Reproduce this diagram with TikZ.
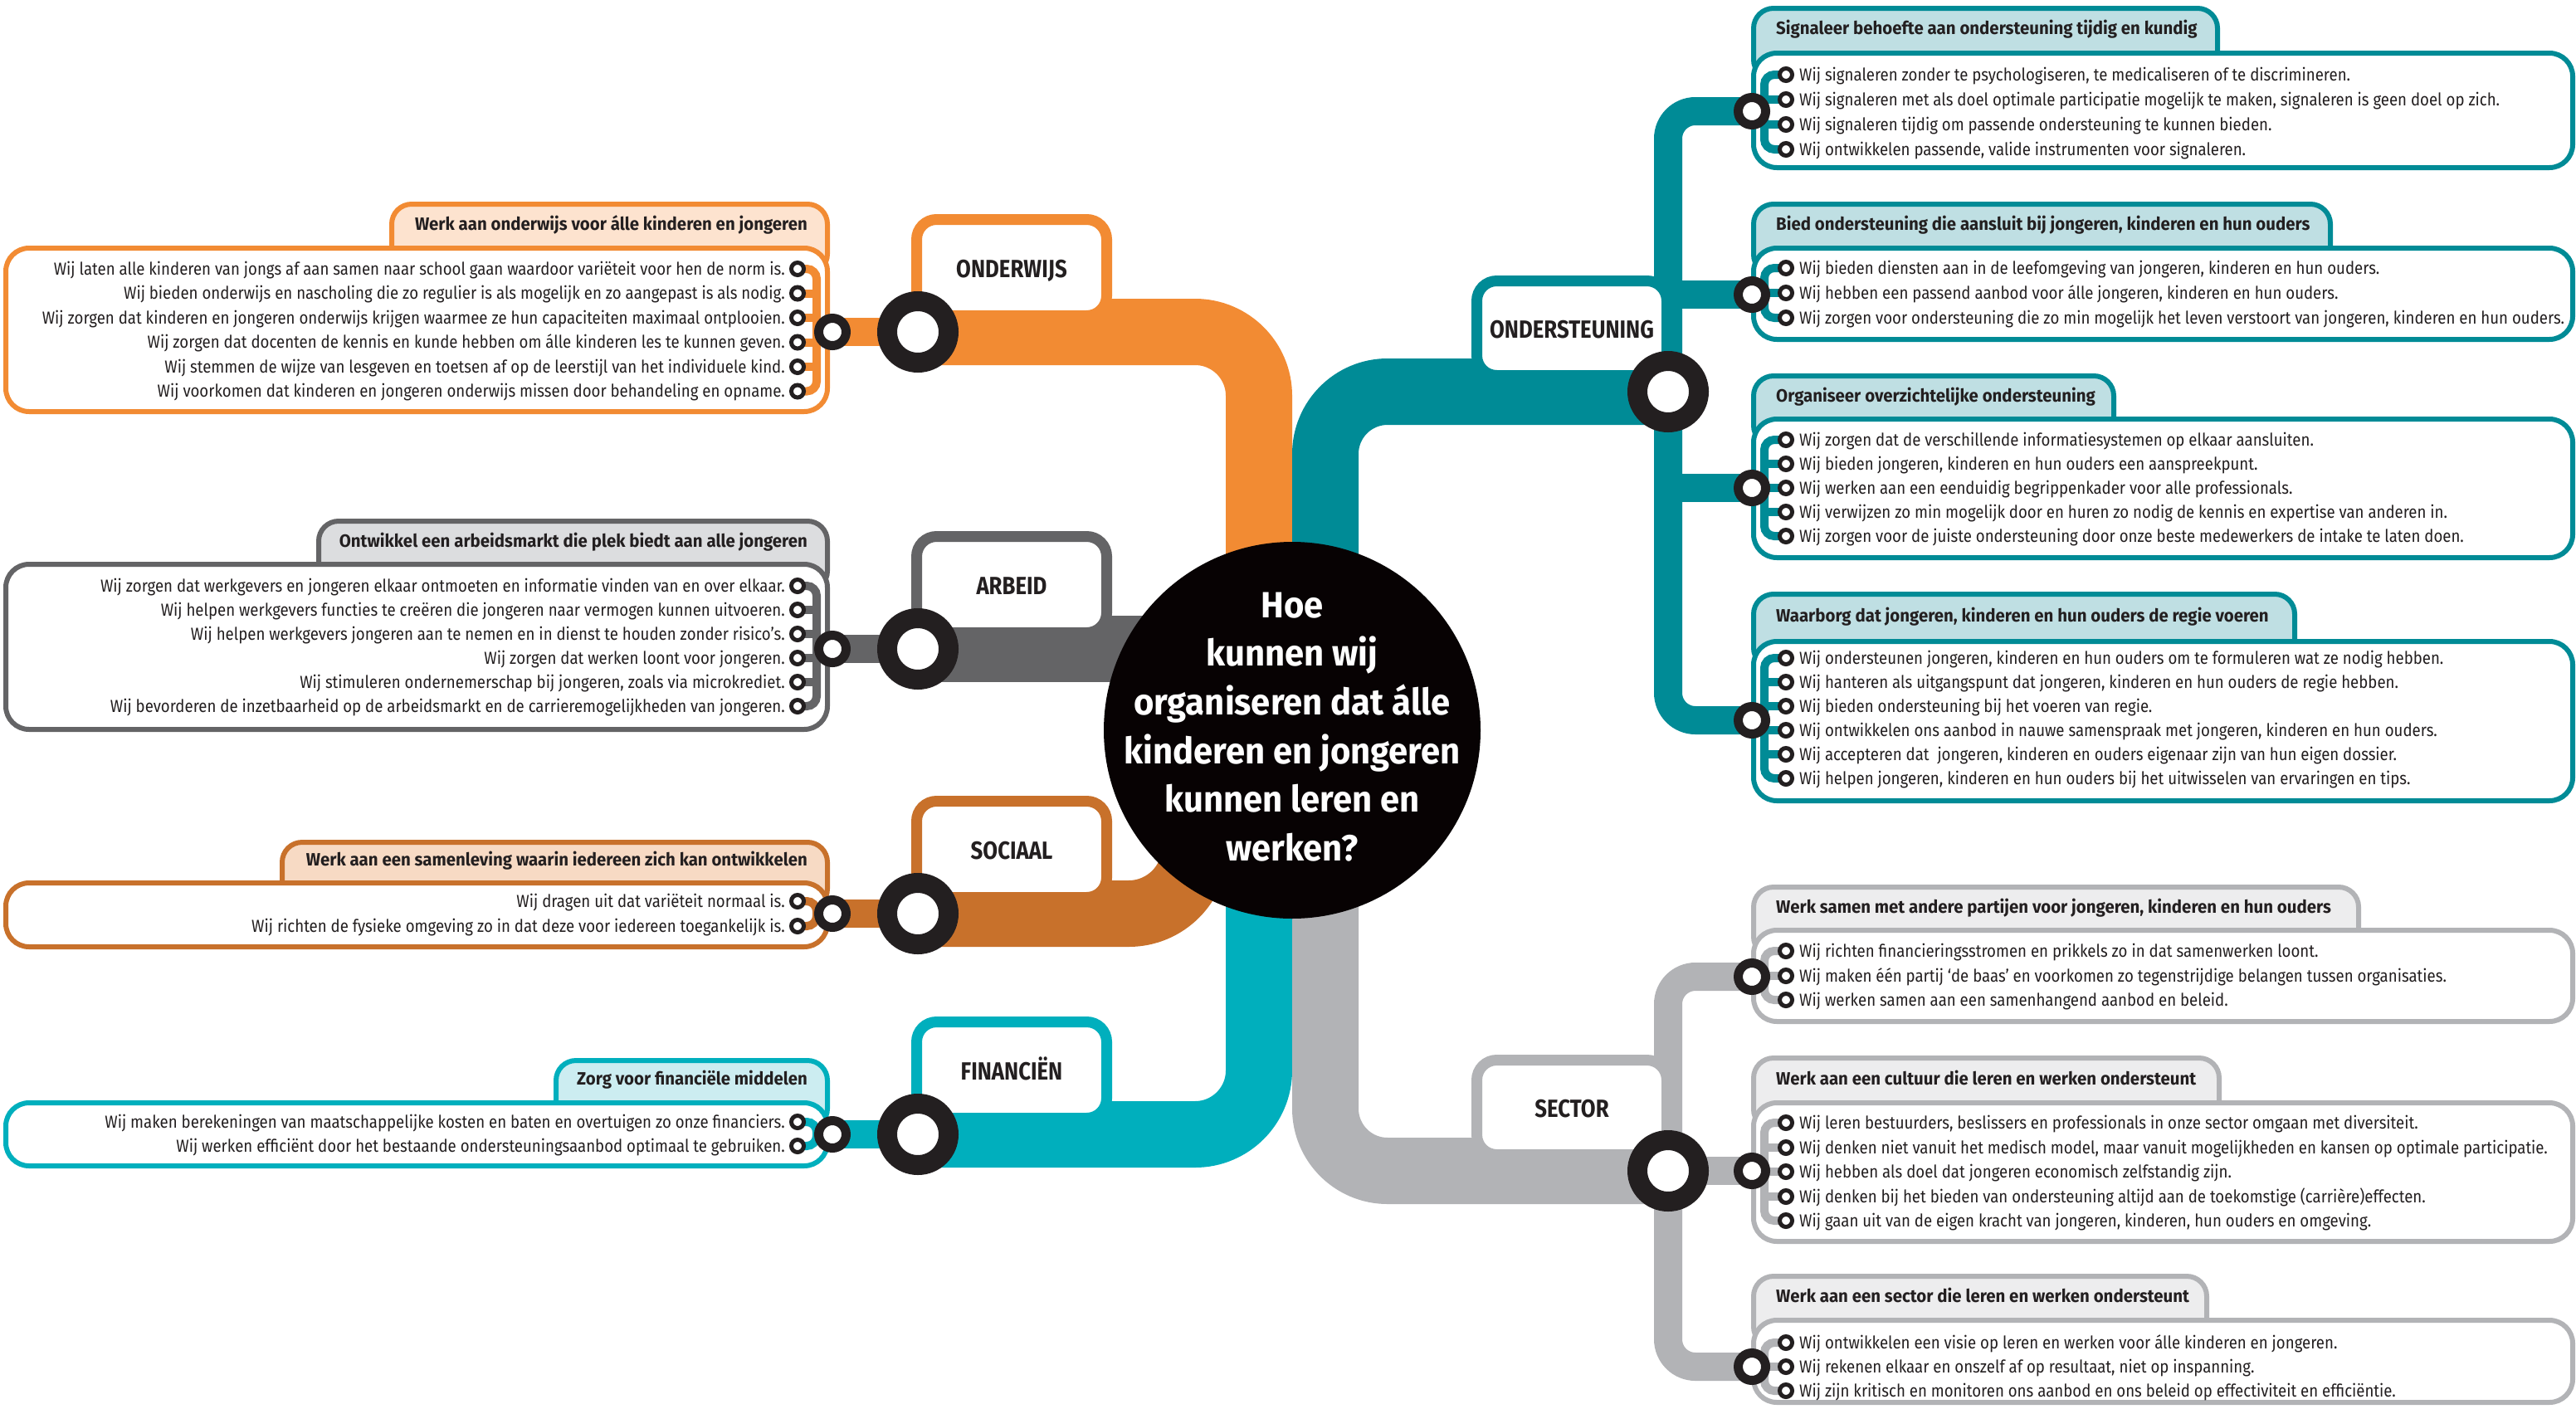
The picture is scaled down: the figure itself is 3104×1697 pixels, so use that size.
\documentclass[tikz,border=0pt]{standalone}
\usepackage{fontspec}
\setmainfont{Fira Sans}
\newfontfamily\condfont{Fira Sans}[FakeStretch=0.86]
\newfontfamily\bodyfont{Fira Sans}[FakeStretch=0.887]
\newfontfamily\headfont{Fira Sans}[FakeStretch=0.95]
\newfontfamily\hubfont{Fira Sans}[FakeStretch=0.95]
\definecolor{orC}{HTML}{F28B33}\definecolor{orT}{HTML}{FDE3CF}
\definecolor{dgC}{HTML}{646466}\definecolor{dgT}{HTML}{DCDDDF}
\definecolor{brC}{HTML}{C8712B}\definecolor{brT}{HTML}{F7DAC4}
\definecolor{cyC}{HTML}{00AFBD}\definecolor{cyT}{HTML}{CCEDF1}
\definecolor{tlC}{HTML}{008B96}\definecolor{tlT}{HTML}{BFDFE3}
\definecolor{lgC}{HTML}{B2B3B6}\definecolor{lgT}{HTML}{EDEDEE}
\definecolor{ringC}{HTML}{231F20}\definecolor{hubFill}{HTML}{070203}
\definecolor{txtC}{HTML}{231F20}
\pgfdeclarelayer{bg}\pgfdeclarelayer{lines}\pgfdeclarelayer{labels}
\pgfsetlayers{bg,lines,labels,main}
\begin{document}
\begin{tikzpicture}[x=1pt,y=-1pt,
  boxshape/.style={line width=6pt, rounded corners=28pt, fill=white},
  tabshape/.style={line width=6pt, rounded corners=24pt},
  lbox/.style={line width=13pt, rounded corners=24pt, fill=white},
  band/.style={line width=80pt},
  midband/.style={line width=34pt},
  brk/.style={line width=10pt, rounded corners=12pt},
  stub/.style={line width=10pt},
  bigring/.style={circle, draw=ringC, fill=white, line width=24pt, minimum size=74pt, inner sep=0pt},
  medring/.style={circle, draw=ringC, fill=white, line width=11pt, minimum size=33pt, inner sep=0pt},
  smlring/.style={circle, draw=ringC, fill=white, line width=5pt, minimum size=15pt, inner sep=0pt},
  bodyL/.style={anchor=base east, inner sep=0pt, text=txtC, font=\bodyfont\fontsize{21}{24}\selectfont},
  bodyR/.style={anchor=base west, inner sep=0pt, text=txtC, font=\bodyfont\fontsize{21}{24}\selectfont},
  headL/.style={anchor=base east, inner sep=0pt, text=txtC, font=\headfont\bfseries\fontsize{21.5}{24}\selectfont},
  headR/.style={anchor=base west, inner sep=0pt, text=txtC, font=\headfont\bfseries\fontsize{21.5}{24}\selectfont},
  labeltext/.style={anchor=base, inner sep=0pt, text=txtC, font=\condfont\bfseries\fontsize{30}{32}\selectfont},
  hubtext/.style={inner sep=0pt, text=white, align=center, font=\hubfont\bfseries\fontsize{44}{58.6}\selectfont}
]
\useasboundingbox (0,0) rectangle (3104,1697);

% ================= HUB =================
\begin{pgfonlayer}{labels}
\node[circle, fill=hubFill, minimum size=454pt, inner sep=0pt] (hub) at (1557,880) {};
\end{pgfonlayer}
\node[hubtext] (hubtxt) at (1557,876) {Hoe\\kunnen wij\\organiseren dat álle\\kinderen en jongeren\\kunnen leren en\\werken?};
\coordinate (hubL) at (1517,880);
\coordinate (hubM) at (1557,782);
\coordinate (hubR) at (1597,880);
\coordinate (hubS) at (1440,880);

% ================= ONDERWIJS =================
\node[bigring] (ondB) at (1106,400) {};
\node[medring] (ondM) at (1003,400) {};
\coordinate (ondK) at (984,400);
\node[smlring] (os1) at (961,324) {};
\node[smlring] (os2) at (961,353.5) {};
\node[smlring] (os3) at (961,383) {};
\node[smlring] (os4) at (961,412.5) {};
\node[smlring] (os5) at (961,442) {};
\node[smlring] (os6) at (961,471.5) {};
\node[headL] (oh) at (973,277) {Werk aan onderwijs voor álle kinderen en jongeren};
\node[bodyL] (ot1) at (946,331) {Wij laten alle kinderen van jongs af aan samen naar school gaan waardoor variëteit voor hen de norm is.};
\node[bodyL] (ot2) at (946,360.5) {Wij bieden onderwijs en nascholing die zo regulier is als mogelijk en zo aangepast is als nodig.};
\node[bodyL] (ot3) at (946,390) {Wij zorgen dat kinderen en jongeren onderwijs krijgen waarmee ze hun capaciteiten maximaal ontplooien.};
\node[bodyL] (ot4) at (946,419.5) {Wij zorgen dat docenten de kennis en kunde hebben om álle kinderen les te kunnen geven.};
\node[bodyL] (ot5) at (946,449) {Wij stemmen de wijze van lesgeven en toetsen af op de leerstijl van het individuele kind.};
\node[bodyL] (ot6) at (946,478.5) {Wij voorkomen dat kinderen en jongeren onderwijs missen door behandeling en opname.};
\node[labeltext] (ondL) at (1219,334) {ONDERWIJS};
\begin{pgfonlayer}{bg}
\draw[tabshape, draw=orC, fill=orT] (472,246) rectangle (997,330);
\draw[boxshape, draw=orC] (7,299) rectangle (997,496);
\end{pgfonlayer}
\begin{pgfonlayer}{labels}
\draw[lbox, draw=orC] (1104.5,264.5) rectangle (1333.5,380.5);
\end{pgfonlayer}
\begin{pgfonlayer}{lines}
\draw[band, orC, rounded corners=77pt] (ondB.center) -| (hubL);
\draw[midband, orC] (ondM.center) -- (ondB.center);
\draw[brk, orC] (os1.center) -| (ondK) |- (os6.center);
\foreach \n in {os2,os3,os4,os5} \draw[stub, orC] (\n.center) -- (\n.center -| ondK);
\end{pgfonlayer}

% ================= ARBEID =================
\node[bigring] (arbB) at (1106,782) {};
\node[medring] (arbM) at (1003,782) {};
\coordinate (arbK) at (984,782);
\node[smlring] (as1) at (961,706) {};
\node[smlring] (as2) at (961,735) {};
\node[smlring] (as3) at (961,764) {};
\node[smlring] (as4) at (961,793) {};
\node[smlring] (as5) at (961,822) {};
\node[smlring] (as6) at (961,851) {};
\node[headL] (ah) at (973,659) {Ontwikkel een arbeidsmarkt die plek biedt aan alle jongeren};
\node[bodyL] (at1) at (946,713) {Wij zorgen dat werkgevers en jongeren elkaar ontmoeten en informatie vinden van en over elkaar.};
\node[bodyL] (at2) at (946,742) {Wij helpen werkgevers functies te creëren die jongeren naar vermogen kunnen uitvoeren.};
\node[bodyL] (at3) at (946,771) {Wij helpen werkgevers jongeren aan te nemen en in dienst te houden zonder risico’s.};
\node[bodyL] (at4) at (946,800) {Wij zorgen dat werken loont voor jongeren.};
\node[bodyL] (at5) at (946,829) {Wij stimuleren ondernemerschap bij jongeren, zoals via microkrediet.};
\node[bodyL] (at6) at (946,858) {Wij bevorderen de inzetbaarheid op de arbeidsmarkt en de carrieremogelijkheden van jongeren.};
\node[labeltext] (arbL) at (1219,716) {ARBEID};
\begin{pgfonlayer}{bg}
\draw[tabshape, draw=dgC, fill=dgT] (384,628) rectangle (997,712);
\draw[boxshape, draw=dgC] (7,680) rectangle (997,879);
\end{pgfonlayer}
\begin{pgfonlayer}{labels}
\draw[lbox, draw=dgC] (1104.5,646.5) rectangle (1333.5,762.5);
\end{pgfonlayer}
\begin{pgfonlayer}{lines}
\draw[band, dgC] (arbB.center) -- (hubM);
\draw[midband, dgC] (arbM.center) -- (arbB.center);
\draw[brk, dgC] (as1.center) -| (arbK) |- (as6.center);
\foreach \n in {as2,as3,as4,as5} \draw[stub, dgC] (\n.center) -- (\n.center -| arbK);
\end{pgfonlayer}

% ================= SOCIAAL =================
\node[bigring] (socB) at (1106,1101) {};
\node[medring] (socM) at (1003,1101) {};
\coordinate (socK) at (984,1101);
\node[smlring] (ss1) at (961,1086) {};
\node[smlring] (ss2) at (961,1116) {};
\node[headL] (sh) at (973,1043) {Werk aan een samenleving waarin iedereen zich kan ontwikkelen};
\node[bodyL] (st1) at (946,1093) {Wij dragen uit dat variëteit normaal is.};
\node[bodyL] (st2) at (946,1123) {Wij richten de fysieke omgeving zo in dat deze voor iedereen toegankelijk is.};
\node[labeltext] (socL) at (1219,1035) {SOCIAAL};
\begin{pgfonlayer}{bg}
\draw[tabshape, draw=brC, fill=brT] (340,1015) rectangle (997,1095);
\draw[boxshape, draw=brC] (7,1064) rectangle (997,1141);
\end{pgfonlayer}
\begin{pgfonlayer}{labels}
\draw[lbox, draw=brC] (1104.5,965.5) rectangle (1333.5,1081.5);
\end{pgfonlayer}
\begin{pgfonlayer}{lines}
\draw[band, brC, rounded corners=80pt] (socB.center) -| (hubS);
\draw[midband, brC] (socM.center) -- (socB.center);
\draw[brk, brC] (ss1.center) -| (socK) |- (ss2.center);
\end{pgfonlayer}

% ================= FINANCIEN =================
\node[bigring] (finB) at (1106,1367) {};
\node[medring] (finM) at (1003,1367) {};
\coordinate (finK) at (984,1367);
\node[smlring] (fs1) at (961,1352) {};
\node[smlring] (fs2) at (961,1381) {};
\node[headL] (fh) at (973,1307) {Zorg voor financiële middelen};
\node[bodyL] (ft1) at (946,1359) {Wij maken berekeningen van maatschappelijke kosten en baten en overtuigen zo onze financiers.};
\node[bodyL] (ft2) at (946,1388) {Wij werken efficiënt door het bestaande ondersteuningsaanbod optimaal te gebruiken.};
\node[labeltext] (finL) at (1219,1301) {FINANCIËN};
\begin{pgfonlayer}{bg}
\draw[tabshape, draw=cyC, fill=cyT] (670,1278) rectangle (997,1360);
\draw[boxshape, draw=cyC] (7,1329) rectangle (997,1405);
\end{pgfonlayer}
\begin{pgfonlayer}{labels}
\draw[lbox, draw=cyC] (1104.5,1231.5) rectangle (1333.5,1347.5);
\end{pgfonlayer}
\begin{pgfonlayer}{lines}
\draw[band, cyC, rounded corners=77pt] (finB.center) -| (hubL);
\draw[midband, cyC] (finM.center) -- (finB.center);
\draw[brk, cyC] (fs1.center) -| (finK) |- (fs2.center);
\end{pgfonlayer}

% ================= ONDERSTEUNING =================
\node[bigring] (tB) at (2010,472) {};
\coordinate (tK) at (2010,500);
\node[labeltext] (tL) at (1894,407) {ONDERSTEUNING};
\begin{pgfonlayer}{labels}
\draw[lbox, draw=tlC] (1779.5,338.5) rectangle (2008.5,452.5);
\end{pgfonlayer}
% box A
\node[medring] (aM) at (2111,134) {};
\coordinate (aK) at (2126,134);
\node[smlring] (aS1) at (2152,90) {};
\node[smlring] (aS2) at (2152,120) {};
\node[smlring] (aS3) at (2152,150) {};
\node[smlring] (aS4) at (2152,180) {};
\node[headR] (aH) at (2140,41) {Signaleer behoefte aan ondersteuning tijdig en kundig};
\node[bodyR] (aT1) at (2168,97) {Wij signaleren zonder te psychologiseren, te medicaliseren of te discrimineren.};
\node[bodyR] (aT2) at (2168,127) {Wij signaleren met als doel optimale participatie mogelijk te maken, signaleren is geen doel op zich.};
\node[bodyR] (aT3) at (2168,157) {Wij signaleren tijdig om passende ondersteuning te kunnen bieden.};
\node[bodyR] (aT4) at (2168,187) {Wij ontwikkelen passende, valide instrumenten voor signaleren.};
% box B
\node[medring] (bM) at (2111,355) {};
\coordinate (bK) at (2126,355);
\node[smlring] (bS1) at (2152,323) {};
\node[smlring] (bS2) at (2152,353) {};
\node[smlring] (bS3) at (2152,383) {};
\node[headR] (bH) at (2140,277) {Bied ondersteuning die aansluit bij jongeren, kinderen en hun ouders};
\node[bodyR] (bT1) at (2168,330) {Wij bieden diensten aan in de leefomgeving van jongeren, kinderen en hun ouders.};
\node[bodyR] (bT2) at (2168,360) {Wij hebben een passend aanbod voor álle jongeren, kinderen en hun ouders.};
\node[bodyR] (bT3) at (2168,390) {Wij zorgen voor ondersteuning die zo min mogelijk het leven verstoort van jongeren, kinderen en hun ouders.};
% box C
\node[medring] (cM) at (2111,588) {};
\coordinate (cK) at (2126,588);
\node[smlring] (cS1) at (2152,530) {};
\node[smlring] (cS2) at (2152,559) {};
\node[smlring] (cS3) at (2152,588) {};
\node[smlring] (cS4) at (2152,617) {};
\node[smlring] (cS5) at (2152,646) {};
\node[headR] (cH) at (2140,484) {Organiseer overzichtelijke ondersteuning};
\node[bodyR] (cT1) at (2168,537) {Wij zorgen dat de verschillende informatiesystemen op elkaar aansluiten.};
\node[bodyR] (cT2) at (2168,566) {Wij bieden jongeren, kinderen en hun ouders een aanspreekpunt.};
\node[bodyR] (cT3) at (2168,595) {Wij werken aan een eenduidig begrippenkader voor alle professionals.};
\node[bodyR] (cT4) at (2168,624) {Wij verwijzen zo min mogelijk door en huren zo nodig de kennis en expertise van anderen in.};
\node[bodyR] (cT5) at (2168,653) {Wij zorgen voor de juiste ondersteuning door onze beste medewerkers de intake te laten doen.};
% box D
\node[medring] (dM) at (2111,868) {};
\coordinate (dK) at (2126,868);
\node[smlring] (dS1) at (2152,793) {};
\node[smlring] (dS2) at (2152,822) {};
\node[smlring] (dS3) at (2152,851) {};
\node[smlring] (dS4) at (2152,880) {};
\node[smlring] (dS5) at (2152,909) {};
\node[smlring] (dS6) at (2152,938) {};
\node[headR] (dH) at (2140,749) {Waarborg dat jongeren, kinderen en hun ouders de regie voeren};
\node[bodyR] (dT1) at (2168,800) {Wij ondersteunen jongeren, kinderen en hun ouders om te formuleren wat ze nodig hebben.};
\node[bodyR] (dT2) at (2168,829) {Wij hanteren als uitgangspunt dat jongeren, kinderen en hun ouders de regie hebben.};
\node[bodyR] (dT3) at (2168,858) {Wij bieden ondersteuning bij het voeren van regie.};
\node[bodyR] (dT4) at (2168,887) {Wij ontwikkelen ons aanbod in nauwe samenspraak met jongeren, kinderen en hun ouders.};
\node[bodyR] (dT5) at (2168,916) {Wij accepteren dat\ \ jongeren, kinderen en ouders eigenaar zijn van hun eigen dossier.};
\node[bodyR] (dT6) at (2168,945) {Wij helpen jongeren, kinderen en hun ouders bij het uitwisselen van ervaringen en tips.};
\begin{pgfonlayer}{bg}
\draw[tabshape, draw=tlC, fill=tlT] (2113,10) rectangle (2672,96);
\draw[boxshape, draw=tlC] (2113,64) rectangle (3100,202);
\draw[tabshape, draw=tlC, fill=tlT] (2113,246) rectangle (2808,331);
\draw[boxshape, draw=tlC] (2113,299) rectangle (3100,409);
\draw[tabshape, draw=tlC, fill=tlT] (2113,453) rectangle (2547,537);
\draw[boxshape, draw=tlC] (2113,505) rectangle (3100,672);
\draw[tabshape, draw=tlC, fill=tlT] (2113,716) rectangle (2765,805);
\draw[boxshape, draw=tlC] (2113,773) rectangle (3100,965);
\end{pgfonlayer}
\begin{pgfonlayer}{lines}
\draw[band, tlC, rounded corners=75pt] (hubR) |- (tB.center);
\draw[midband, tlC, rounded corners=33pt] (aM.center) -| (tK) |- (dM.center);
\draw[midband, tlC] (bM.center -| tK) -- (bM.center);
\draw[midband, tlC] (cM.center -| tK) -- (cM.center);
\draw[brk, tlC] (aS1.center) -| (aK) |- (aS4.center);
\foreach \n in {aS2,aS3} \draw[stub, tlC] (\n.center) -- (\n.center -| aK);
\draw[brk, tlC] (bS1.center) -| (bK) |- (bS3.center);
\draw[stub, tlC] (bS2.center) -- (bS2.center -| bK);
\draw[brk, tlC] (cS1.center) -| (cK) |- (cS5.center);
\foreach \n in {cS2,cS3,cS4} \draw[stub, tlC] (\n.center) -- (\n.center -| cK);
\draw[brk, tlC] (dS1.center) -| (dK) |- (dS6.center);
\foreach \n in {dS2,dS3,dS4,dS5} \draw[stub, tlC] (\n.center) -- (\n.center -| dK);
\end{pgfonlayer}

% ================= SECTOR =================
\node[bigring] (sB) at (2010,1411) {};
\coordinate (sK) at (2010,1400);
\node[labeltext] (sL) at (1894,1346) {SECTOR};
\begin{pgfonlayer}{labels}
\draw[lbox, draw=lgC] (1779.5,1277.5) rectangle (2008.5,1391.5);
\end{pgfonlayer}
% box E
\node[medring] (eM) at (2111,1177) {};
\coordinate (eK) at (2126,1177);
\node[smlring] (eS1) at (2152,1146) {};
\node[smlring] (eS2) at (2152,1176) {};
\node[smlring] (eS3) at (2152,1205) {};
\node[headR] (eH) at (2140,1100) {Werk samen met andere partijen voor jongeren, kinderen en hun ouders};
\node[bodyR] (eT1) at (2168,1153) {Wij richten financieringsstromen en prikkels zo in dat samenwerken loont.};
\node[bodyR] (eT2) at (2168,1183) {Wij maken één partij ‘de baas’ en voorkomen zo tegenstrijdige belangen tussen organisaties.};
\node[bodyR] (eT3) at (2168,1212) {Wij werken samen aan een samenhangend aanbod en beleid.};
% box F
\node[medring] (fM) at (2111,1411) {};
\coordinate (fK) at (2126,1411);
\node[smlring] (fS1) at (2152,1353) {};
\node[smlring] (fS2) at (2152,1383) {};
\node[smlring] (fS3) at (2152,1412) {};
\node[smlring] (fS4) at (2152,1442) {};
\node[smlring] (fS5) at (2152,1471) {};
\node[headR] (fH) at (2140,1307) {Werk aan een cultuur die leren en werken ondersteunt};
\node[bodyR] (fT1) at (2168,1360) {Wij leren bestuurders, beslissers en professionals in onze sector omgaan met diversiteit.};
\node[bodyR] (fT2) at (2168,1390) {Wij denken niet vanuit het medisch model, maar vanuit mogelijkheden en kansen op optimale participatie.};
\node[bodyR] (fT3) at (2168,1419) {Wij hebben als doel dat jongeren economisch zelfstandig zijn.};
\node[bodyR] (fT4) at (2168,1449) {Wij denken bij het bieden van ondersteuning altijd aan de toekomstige (carrière)effecten.};
\node[bodyR] (fT5) at (2168,1478) {Wij gaan uit van de eigen kracht van jongeren, kinderen, hun ouders en omgeving.};
% box G
\node[medring] (gM) at (2111,1647) {};
\coordinate (gK) at (2126,1647);
\node[smlring] (gS1) at (2152,1618) {};
\node[smlring] (gS2) at (2152,1647) {};
\node[smlring] (gS3) at (2152,1676) {};
\node[headR] (gH) at (2140,1569) {Werk aan een sector die leren en werken ondersteunt};
\node[bodyR] (gT1) at (2168,1625) {Wij ontwikkelen een visie op leren en werken voor álle kinderen en jongeren.};
\node[bodyR] (gT2) at (2168,1654) {Wij rekenen elkaar en onszelf af op resultaat, niet op inspanning.};
\node[bodyR] (gT3) at (2168,1683) {Wij zijn kritisch en monitoren ons aanbod en ons beleid op effectiviteit en efficiëntie.};
\begin{pgfonlayer}{bg}
\draw[tabshape, draw=lgC, fill=lgT] (2113,1069) rectangle (2842,1153);
\draw[boxshape, draw=lgC] (2113,1121) rectangle (3100,1231);
\draw[tabshape, draw=lgC, fill=lgT] (2113,1275) rectangle (2674,1361);
\draw[boxshape, draw=lgC] (2113,1329) rectangle (3100,1496);
\draw[tabshape, draw=lgC, fill=lgT] (2113,1538) rectangle (2659,1623);
\draw[boxshape, draw=lgC] (2113,1591) rectangle (3100,1690);
\end{pgfonlayer}
\begin{pgfonlayer}{lines}
\draw[band, lgC, rounded corners=75pt] (hubR) |- (sB.center);
\draw[midband, lgC, rounded corners=33pt] (eM.center) -| (sK) |- (gM.center);
\draw[midband, lgC] (sB.center) -- (fM.center);
\draw[brk, lgC] (eS1.center) -| (eK) |- (eS3.center);
\draw[stub, lgC] (eS2.center) -- (eS2.center -| eK);
\draw[brk, lgC] (fS1.center) -| (fK) |- (fS5.center);
\foreach \n in {fS2,fS3,fS4} \draw[stub, lgC] (\n.center) -- (\n.center -| fK);
\draw[brk, lgC] (gS1.center) -| (gK) |- (gS3.center);
\draw[stub, lgC] (gS2.center) -- (gS2.center -| gK);
\end{pgfonlayer}
\end{tikzpicture}
\end{document}
